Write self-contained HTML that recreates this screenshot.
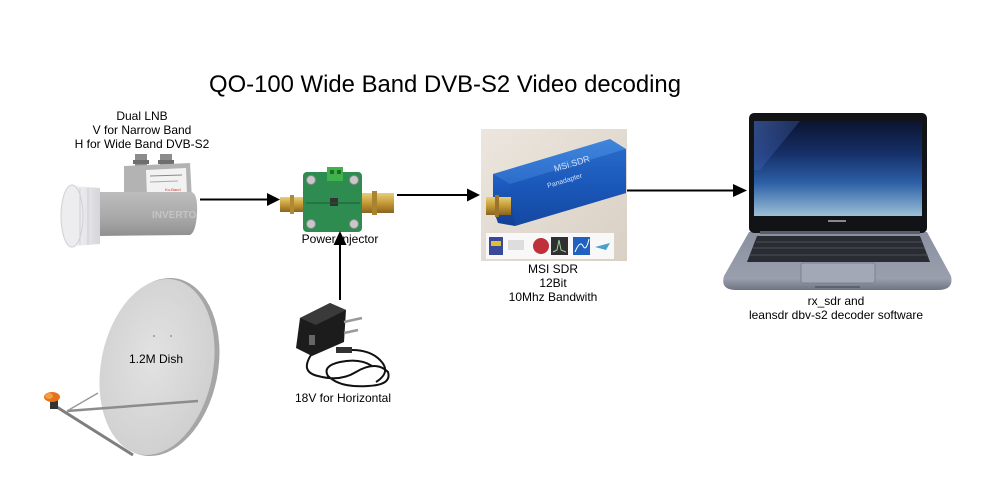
<!DOCTYPE html>
<html>
<head>
<meta charset="utf-8">
<style>
  html,body{margin:0;padding:0;background:#fff;}
  svg{display:block;}
  text{font-family:"Liberation Sans",Arial,sans-serif;}
</style>
</head>
<body>
<svg width="995" height="480" viewBox="0 0 995 480" xmlns="http://www.w3.org/2000/svg">
  <defs>
    <linearGradient id="lnbBody" x1="0" y1="0" x2="0" y2="1">
      <stop offset="0" stop-color="#bdbdbd"/>
      <stop offset="0.6" stop-color="#a8a8a8"/>
      <stop offset="1" stop-color="#909090"/>
    </linearGradient>
    <linearGradient id="horn" x1="0" y1="0" x2="1" y2="0">
      <stop offset="0" stop-color="#f4f4f6"/>
      <stop offset="1" stop-color="#d6d6da"/>
    </linearGradient>
    <linearGradient id="gold" x1="0" y1="0" x2="0" y2="1">
      <stop offset="0" stop-color="#e8cf7a"/>
      <stop offset="0.5" stop-color="#c59a35"/>
      <stop offset="1" stop-color="#8a6420"/>
    </linearGradient>
    <linearGradient id="sdrBg" x1="0" y1="0" x2="1" y2="1">
      <stop offset="0" stop-color="#ece6de"/>
      <stop offset="1" stop-color="#d9d0c4"/>
    </linearGradient>
    <linearGradient id="blue" x1="0" y1="0" x2="0" y2="1">
      <stop offset="0" stop-color="#3a80dc"/>
      <stop offset="0.5" stop-color="#1d5cc0"/>
      <stop offset="1" stop-color="#123f94"/>
    </linearGradient>
    <linearGradient id="screen" x1="0" y1="0" x2="0" y2="1">
      <stop offset="0" stop-color="#0b1430"/>
      <stop offset="0.35" stop-color="#16306a"/>
      <stop offset="0.65" stop-color="#2c5fa6"/>
      <stop offset="1" stop-color="#9cc0d6"/>
    </linearGradient>
    <linearGradient id="streak" x1="0" y1="0" x2="1" y2="1">
      <stop offset="0" stop-color="#4a6fc0" stop-opacity="0.6"/>
      <stop offset="1" stop-color="#4a6fc0" stop-opacity="0"/>
    </linearGradient>
    <linearGradient id="base" x1="0" y1="0" x2="0" y2="1">
      <stop offset="0" stop-color="#8b90a0"/>
      <stop offset="0.8" stop-color="#9a9fae"/>
      <stop offset="1" stop-color="#6f7482"/>
    </linearGradient>
    <radialGradient id="dish" cx="0.45" cy="0.45" r="0.6">
      <stop offset="0" stop-color="#e2e2e2"/>
      <stop offset="1" stop-color="#cfcfcf"/>
    </radialGradient>
  </defs>

  <!-- Title -->
  <text x="445" y="92" font-size="24" fill="#000" text-anchor="middle" textLength="472" lengthAdjust="spacingAndGlyphs">QO-100 Wide Band DVB-S2 Video decoding</text>

  <!-- LNB labels -->
  <text x="142" y="120" font-size="12" fill="#000" text-anchor="middle">Dual LNB</text>
  <text x="142" y="134" font-size="12" fill="#000" text-anchor="middle">V for Narrow Band</text>
  <text x="142" y="148" font-size="12" fill="#000" text-anchor="middle">H for Wide Band DVB-S2</text>

  <!-- LNB -->
  <g>
    <rect x="135" y="154" width="12" height="12" fill="#8c8c8c"/>
    <rect x="160" y="154" width="12" height="12" fill="#8c8c8c"/>
    <rect x="133" y="160" width="16" height="4" fill="#6e6e6e"/>
    <rect x="158" y="160" width="16" height="4" fill="#6e6e6e"/>
    <path d="M124,166 L190,163 L192,200 L124,202 Z" fill="#b3b3b3"/>
    <path d="M146,170 L186,168 L187,196 L147,197 Z" fill="#f2f2f2"/>
    <line x1="150" y1="176" x2="182" y2="175" stroke="#888" stroke-width="1"/>
    <line x1="150" y1="182" x2="178" y2="181" stroke="#aaa" stroke-width="1"/>
    <text x="165" y="191" font-size="4" fill="#c33">Ku-Band</text>
    <path d="M98,192 L192,192 Q198,195 197,213 Q196,232 190,235 L98,236 Z" fill="url(#lnbBody)"/>
    <text x="152" y="218" font-size="10" fill="#c4c4c4" font-weight="bold">INVERTO</text>
    <path d="M74,186 L100,188 L100,244 L74,246 Z" fill="url(#horn)"/>
    <ellipse cx="72" cy="216" rx="11" ry="31" fill="#ededf0" stroke="#d0d0d4" stroke-width="1"/>
    <line x1="80" y1="188" x2="80" y2="245" stroke="#cfcfd4" stroke-width="1"/>
    <line x1="88" y1="188" x2="88" y2="245" stroke="#cfcfd4" stroke-width="1"/>
  </g>

  <!-- Arrow LNB -> injector -->
  <line x1="200" y1="199.5" x2="268" y2="199.5" stroke="#000" stroke-width="2"/>
  <polygon points="280,199.5 267,193 267,206" fill="#000"/>

  <!-- Power injector -->
  <g>
    <rect x="280" y="197" width="28" height="15" fill="url(#gold)"/>
    <rect x="290" y="195" width="4" height="19" fill="#b08a30"/>
    <rect x="303" y="172" width="59" height="60" rx="4" fill="#2f8c50"/>
    <rect x="327" y="167" width="16" height="14" fill="#3fb24c"/>
    <rect x="330" y="170" width="4" height="4" fill="#1e6d2a"/>
    <rect x="337" y="170" width="4" height="4" fill="#1e6d2a"/>
    <circle cx="311" cy="180" r="4.5" fill="#c8c8c8" stroke="#888" stroke-width="1"/>
    <circle cx="354" cy="180" r="4.5" fill="#c8c8c8" stroke="#888" stroke-width="1"/>
    <circle cx="311" cy="224" r="4.5" fill="#c8c8c8" stroke="#888" stroke-width="1"/>
    <circle cx="354" cy="224" r="4.5" fill="#c8c8c8" stroke="#888" stroke-width="1"/>
    <rect x="330" y="198" width="8" height="8" fill="#333"/>
    <line x1="306" y1="203" x2="360" y2="203" stroke="#1b5a30" stroke-width="1"/>
    <rect x="362" y="193" width="32" height="20" fill="url(#gold)"/>
    <rect x="372" y="191" width="5" height="24" fill="#a98330"/>
  </g>
  <text x="340" y="243" font-size="12" fill="#000" text-anchor="middle">Power Injector</text>

  <!-- vertical arrow -->
  <line x1="340" y1="300" x2="340" y2="244" stroke="#000" stroke-width="2"/>
  <polygon points="340,231 333.5,245 346.5,245" fill="#000"/>

  <!-- Arrow injector -> SDR -->
  <line x1="397" y1="195" x2="468" y2="195" stroke="#000" stroke-width="2"/>
  <polygon points="480,195 467,188.5 467,201.5" fill="#000"/>

  <!-- SDR image -->
  <g>
    <rect x="481" y="129" width="146" height="132" fill="url(#sdrBg)"/>
    <polygon points="493,174 610,139 626,149 626,193 515,226 498,223 493,209" fill="url(#blue)"/>
    <polygon points="493,174 610,139 626,149 510,184" fill="#4a8ee0" opacity="0.35"/>
    <polygon points="510,184 626,149 626,193 515,226" fill="#1a55b5" opacity="0.4"/>
    <text x="555" y="172" font-size="9" fill="#cfe0ff" transform="rotate(-17 555 172)" font-family="Liberation Serif">MSi.SDR</text>
    <text x="548" y="188" font-size="7" fill="#cfe0ff" transform="rotate(-17 548 188)" font-family="Liberation Serif">Panadapter</text>
    <rect x="486" y="197" width="25" height="18" fill="url(#gold)"/>
    <rect x="495" y="195" width="4" height="22" fill="#9a7428"/>
    <rect x="486" y="233" width="128" height="26" fill="#f8f8f8"/>
    <rect x="489" y="237" width="14" height="18" fill="#3a4a9a"/>
    <rect x="491" y="241" width="10" height="5" fill="#e0c030"/>
    <rect x="508" y="240" width="16" height="10" fill="#ddd"/>
    <circle cx="541" cy="246" r="8" fill="#c0303a"/>
    <rect x="551" y="237" width="17" height="18" fill="#303030"/>
    <polyline points="553,252 557,250 559,240 561,250 566,252" fill="none" stroke="#9c9" stroke-width="1"/>
    <rect x="573" y="237" width="17" height="18" fill="#2060c0"/>
    <path d="M575,252 Q580,240 583,246 Q586,252 589,239" fill="none" stroke="#fff" stroke-width="1"/>
    <path d="M595,247 L610,243 L606,250 Z" fill="#4aa0c8"/>
  </g>
  <text x="553" y="273" font-size="12" fill="#000" text-anchor="middle">MSI SDR</text>
  <text x="553" y="287" font-size="12" fill="#000" text-anchor="middle">12Bit</text>
  <text x="553" y="301" font-size="12" fill="#000" text-anchor="middle">10Mhz Bandwith</text>

  <!-- Arrow SDR -> laptop -->
  <line x1="627" y1="190.5" x2="734" y2="190.5" stroke="#000" stroke-width="2"/>
  <polygon points="747,190.5 733,184 733,197" fill="#000"/>

  <!-- Laptop -->
  <g>
    <path d="M749,232 L927,232 L951,276 Q954,290 938,290 L736,290 Q720,290 724,276 Z" fill="url(#base)"/>
    <rect x="749" y="113" width="178" height="120" rx="5" fill="#121317"/>
    <rect x="754" y="121" width="168" height="95" fill="url(#screen)"/>
    <polygon points="754,121 800,121 760,170 754,170" fill="url(#streak)"/>
    <rect x="828" y="220" width="18" height="2" fill="#888"/>
    <rect x="760" y="231" width="160" height="3" fill="#5a5e68"/>
    <path d="M757,236 L920,236 L930,262 L747,262 Z" fill="#2a2c33"/>
    <g stroke="#5a5d66" stroke-width="0.7">
      <line x1="756" y1="242" x2="922" y2="242"/>
      <line x1="753" y1="248" x2="925" y2="248"/>
      <line x1="750" y1="255" x2="928" y2="255"/>
    </g>
    <rect x="801" y="263" width="74" height="20" rx="2" fill="#a3a8b6" stroke="#7c8190" stroke-width="1"/>
    <rect x="815" y="286" width="45" height="2" fill="#5e626e"/>
  </g>
  <text x="836" y="305" font-size="12" fill="#000" text-anchor="middle">rx_sdr and</text>
  <text x="836" y="319" font-size="12" fill="#000" text-anchor="middle">leansdr dbv-s2 decoder software</text>

  <!-- Dish -->
  <g>
    <ellipse cx="160" cy="367" rx="58" ry="90" transform="rotate(11 160 367)" fill="#a6a6a6"/>
    <ellipse cx="157" cy="367" rx="56" ry="89" transform="rotate(11 157 367)" fill="url(#dish)"/>
    <circle cx="154" cy="336" r="1" fill="#999"/>
    <circle cx="171" cy="336" r="1" fill="#999"/>
    <line x1="67" y1="411" x2="198" y2="401" stroke="#8c8c8c" stroke-width="2.5"/>
    <line x1="67" y1="411" x2="98" y2="393" stroke="#9a9a9a" stroke-width="1.5"/>
    <line x1="52" y1="404" x2="133" y2="455" stroke="#7e7e7e" stroke-width="3"/>
    <rect x="50" y="397" width="8" height="12" fill="#333"/>
    <ellipse cx="52" cy="397" rx="8" ry="5" fill="#e8701a"/>
    <ellipse cx="49" cy="396" rx="4" ry="3" fill="#f0a040"/>
  </g>
  <text x="156" y="363" font-size="12" fill="#000" text-anchor="middle">1.2M Dish</text>

  <!-- Power supply -->
  <g>
    <path d="M300,318 L330,303 L346,310 L344,342 L312,356 L296,348 Z" fill="#1c1c1c"/>
    <path d="M300,318 L330,303 L346,310 L316,325 Z" fill="#3a3a3a"/>
    <rect x="309" y="335" width="6" height="10" fill="#666"/>
    <line x1="344" y1="322" x2="362" y2="318" stroke="#999" stroke-width="2.5"/>
    <line x1="344" y1="333" x2="358" y2="330" stroke="#999" stroke-width="2.5"/>
    <rect x="336" y="347" width="16" height="6" fill="#333"/>
    <path d="M311,355 Q300,372 318,376 Q340,382 356,372 Q376,360 388,372 Q392,385 368,386 Q340,388 328,376 Q322,366 340,362 Q360,358 372,366" fill="none" stroke="#111" stroke-width="2"/>
    <path d="M352,350 Q370,350 380,360 Q392,372 376,382" fill="none" stroke="#111" stroke-width="2"/>
  </g>
  <text x="343" y="402" font-size="12" fill="#000" text-anchor="middle">18V for Horizontal</text>
</svg>
</body>
</html>
